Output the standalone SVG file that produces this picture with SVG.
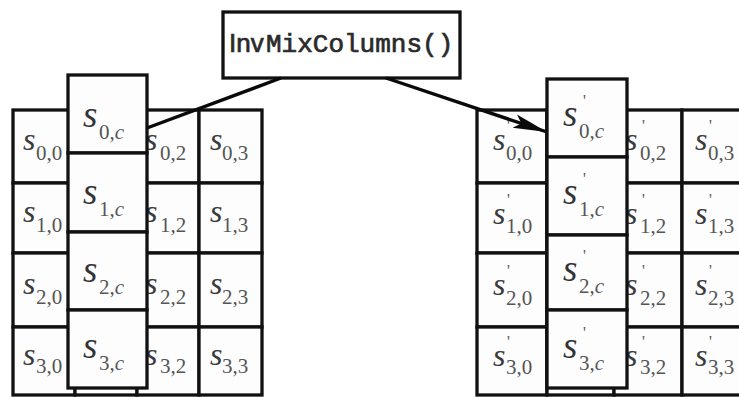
<svg xmlns="http://www.w3.org/2000/svg" width="739" height="397" viewBox="0 0 739 397">
<defs>
<style>
.cell{fill:#fdfdfd;stroke:#111;stroke-width:3.3}
.hl{fill:#fdfdfd;stroke:#111;stroke-width:3.3}
.s{font-family:"Liberation Serif","Times New Roman",serif;font-style:italic;font-size:32px;fill:#3a3a3a}
.S{font-family:"Liberation Serif","Times New Roman",serif;font-style:italic;font-size:37px;fill:#333}
.sub{font-family:"Liberation Serif","Times New Roman",serif;font-style:normal;font-size:21px;fill:#555}
.subc{font-style:italic}
.pr{font-family:"Liberation Serif","Times New Roman",serif;font-size:16px;fill:#555}
.conn{stroke:#0a0a0a;stroke-width:3.4;fill:none}
</style>
<marker id="ah" markerUnits="userSpaceOnUse" markerWidth="36" markerHeight="16" refX="34" refY="8" orient="auto">
<path d="M0,1 L34,8 L0,15 L7,8 z" fill="#0a0a0a"/>
</marker>
</defs>
<rect width="739" height="397" fill="#fff"/>

<!-- Left state grid -->
<g id="left-grid">
<g id="L00"><rect class="cell" x="13" y="110" width="62" height="73"/><text class="s" x="23" y="150">s</text><text class="sub" x="36" y="160">0,0</text></g>
<g id="L10"><rect class="cell" x="13" y="183" width="62" height="70"/><text class="s" x="23" y="222">s</text><text class="sub" x="36" y="232">1,0</text></g>
<g id="L20"><rect class="cell" x="13" y="253" width="62" height="74"/><text class="s" x="23" y="294">s</text><text class="sub" x="36" y="304">2,0</text></g>
<g id="L30"><rect class="cell" x="13" y="327" width="62" height="68"/><text class="s" x="23" y="365">s</text><text class="sub" x="36" y="373">3,0</text></g>
<g id="L01"><rect class="cell" x="75" y="110" width="62" height="73"/></g>
<g id="L11"><rect class="cell" x="75" y="183" width="62" height="70"/></g>
<g id="L21"><rect class="cell" x="75" y="253" width="62" height="74"/></g>
<g id="L31"><rect class="cell" x="75" y="327" width="62" height="68"/></g>
<g id="L02"><rect class="cell" x="137" y="110" width="62" height="73"/><text class="s" x="145" y="150">s</text><text class="sub" x="160" y="160">0,2</text></g>
<g id="L12"><rect class="cell" x="137" y="183" width="62" height="70"/><text class="s" x="145" y="222">s</text><text class="sub" x="160" y="232">1,2</text></g>
<g id="L22"><rect class="cell" x="137" y="253" width="62" height="74"/><text class="s" x="145" y="294">s</text><text class="sub" x="160" y="304">2,2</text></g>
<g id="L32"><rect class="cell" x="137" y="327" width="62" height="68"/><text class="s" x="145" y="365">s</text><text class="sub" x="160" y="373">3,2</text></g>
<g id="L03"><rect class="cell" x="199" y="110" width="63" height="73"/><text class="s" x="210" y="150">s</text><text class="sub" x="222" y="160">0,3</text></g>
<g id="L13"><rect class="cell" x="199" y="183" width="63" height="70"/><text class="s" x="210" y="222">s</text><text class="sub" x="222" y="232">1,3</text></g>
<g id="L23"><rect class="cell" x="199" y="253" width="63" height="74"/><text class="s" x="210" y="294">s</text><text class="sub" x="222" y="304">2,3</text></g>
<g id="L33"><rect class="cell" x="199" y="327" width="63" height="68"/><text class="s" x="210" y="365">s</text><text class="sub" x="222" y="373">3,3</text></g>
</g>

<!-- Left highlighted column -->
<g id="left-col">
<g id="L0c"><rect class="hl" x="68" y="75" width="79" height="78"/><text class="S" x="83" y="127">s</text><text class="sub" x="99" y="139">0,<tspan class="subc">c</tspan></text></g>
<g id="L1c"><rect class="hl" x="68" y="153" width="79" height="79"/><text class="S" x="83" y="204">s</text><text class="sub" x="99" y="216">1,<tspan class="subc">c</tspan></text></g>
<g id="L2c"><rect class="hl" x="68" y="232" width="79" height="78"/><text class="S" x="83" y="282">s</text><text class="sub" x="99" y="294">2,<tspan class="subc">c</tspan></text></g>
<g id="L3c"><rect class="hl" x="68" y="310" width="79" height="78"/><text class="S" x="83" y="358">s</text><text class="sub" x="99" y="370">3,<tspan class="subc">c</tspan></text></g>
</g>

<!-- Right state grid -->
<g id="right-grid">
<g id="R00"><rect class="cell" x="477" y="110" width="70" height="73"/><text class="s" x="493" y="150">s</text><text class="pr" x="507" y="131">'</text><text class="sub" x="506" y="160">0,0</text></g>
<g id="R10"><rect class="cell" x="477" y="183" width="70" height="70"/><text class="s" x="493" y="224">s</text><text class="pr" x="507" y="205">'</text><text class="sub" x="506" y="233">1,0</text></g>
<g id="R20"><rect class="cell" x="477" y="253" width="70" height="74"/><text class="s" x="493" y="295">s</text><text class="pr" x="507" y="276">'</text><text class="sub" x="506" y="305">2,0</text></g>
<g id="R30"><rect class="cell" x="477" y="327" width="70" height="68"/><text class="s" x="493" y="366">s</text><text class="pr" x="507" y="347">'</text><text class="sub" x="506" y="374">3,0</text></g>
<g id="R01"><rect class="cell" x="547" y="110" width="67" height="73"/></g>
<g id="R11"><rect class="cell" x="547" y="183" width="67" height="70"/></g>
<g id="R21"><rect class="cell" x="547" y="253" width="67" height="74"/></g>
<g id="R31"><rect class="cell" x="547" y="327" width="67" height="68"/></g>
<g id="R02"><rect class="cell" x="614" y="110" width="68" height="73"/><text class="s" x="625" y="150">s</text><text class="pr" x="642" y="131">'</text><text class="sub" x="640" y="160">0,2</text></g>
<g id="R12"><rect class="cell" x="614" y="183" width="68" height="70"/><text class="s" x="625" y="224">s</text><text class="pr" x="642" y="205">'</text><text class="sub" x="640" y="233">1,2</text></g>
<g id="R22"><rect class="cell" x="614" y="253" width="68" height="74"/><text class="s" x="625" y="295">s</text><text class="pr" x="642" y="276">'</text><text class="sub" x="640" y="305">2,2</text></g>
<g id="R32"><rect class="cell" x="614" y="327" width="68" height="68"/><text class="s" x="625" y="366">s</text><text class="pr" x="642" y="347">'</text><text class="sub" x="640" y="374">3,2</text></g>
<g id="R03"><rect class="cell" x="682" y="110" width="70" height="73"/><text class="s" x="695" y="150">s</text><text class="pr" x="709" y="131">'</text><text class="sub" x="708" y="160">0,3</text></g>
<g id="R13"><rect class="cell" x="682" y="183" width="70" height="70"/><text class="s" x="695" y="224">s</text><text class="pr" x="709" y="205">'</text><text class="sub" x="708" y="233">1,3</text></g>
<g id="R23"><rect class="cell" x="682" y="253" width="70" height="74"/><text class="s" x="695" y="295">s</text><text class="pr" x="709" y="276">'</text><text class="sub" x="708" y="305">2,3</text></g>
<g id="R33"><rect class="cell" x="682" y="327" width="70" height="68"/><text class="s" x="695" y="366">s</text><text class="pr" x="709" y="347">'</text><text class="sub" x="708" y="374">3,3</text></g>
</g>

<!-- Right highlighted column -->
<g id="right-col">
<g id="R0c"><rect class="hl" x="547" y="79" width="80" height="78"/><text class="S" x="563" y="126">s</text><text class="pr" x="583" y="106">'</text><text class="sub" x="579" y="138">0,<tspan class="subc">c</tspan></text></g>
<g id="R1c"><rect class="hl" x="547" y="157" width="80" height="78"/><text class="S" x="563" y="204">s</text><text class="pr" x="583" y="184">'</text><text class="sub" x="579" y="216">1,<tspan class="subc">c</tspan></text></g>
<g id="R2c"><rect class="hl" x="547" y="235" width="80" height="75"/><text class="S" x="563" y="281">s</text><text class="pr" x="583" y="261">'</text><text class="sub" x="579" y="293">2,<tspan class="subc">c</tspan></text></g>
<g id="R3c"><rect class="hl" x="547" y="310" width="80" height="78"/><text class="S" x="563" y="358">s</text><text class="pr" x="583" y="338">'</text><text class="sub" x="579" y="370">3,<tspan class="subc">c</tspan></text></g>
</g>

<!-- Operation box -->
<g id="inv-mix-columns">
<rect x="223" y="12" width="237" height="66" fill="#fff" stroke="#111" stroke-width="3.3"/>
<text y="52" fill="#2a2a2a" stroke="#2a2a2a" stroke-width="0.7"><tspan font-family="'Liberation Sans',Arial,sans-serif" font-size="26" x="229">Inv</tspan><tspan font-family="'Liberation Mono','Courier New',monospace" font-size="26" x="266">MixColumns()</tspan></text>
</g>

<!-- Connectors -->
<g id="connectors">
<line class="conn" x1="281" y1="78" x2="147" y2="128"/>
<line class="conn" x1="386" y1="78" x2="547" y2="132" marker-end="url(#ah)"/>
</g>
</svg>
